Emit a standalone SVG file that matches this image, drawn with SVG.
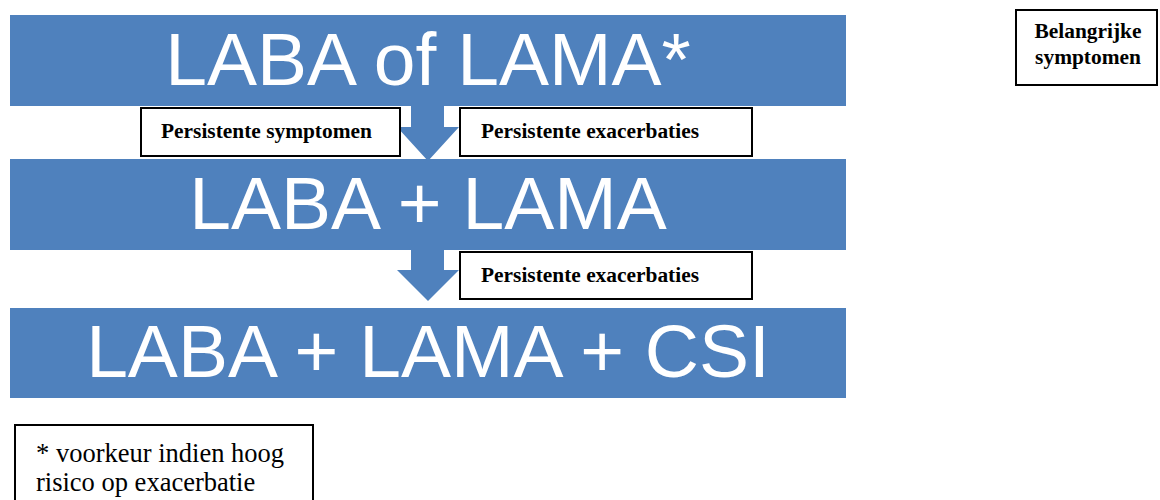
<svg xmlns="http://www.w3.org/2000/svg" width="1160" height="500" viewBox="0 0 1160 500">
<style>
.bar{fill:#4F81BD}
.big{font-family:"Liberation Sans",Arial,sans-serif;font-size:75px;fill:#fff;text-anchor:middle}
.box{fill:#fff;stroke:#000;stroke-width:2}
.lbl{font-family:"Liberation Serif","Times New Roman",serif;font-size:21.4px;font-weight:bold;fill:#000}
.note{font-family:"Liberation Serif","Times New Roman",serif;font-size:26.5px;fill:#000}
.arrow{fill:#4F81BD}
</style>
<g id="connectors">
<polygon class="arrow" points="411,106 444,106 444,127 459,127 428,161 397,127 411,127"/>
<polygon class="arrow" points="411,250 444,250 444,270 459,270 428,301 397,270 411,270"/>
</g>
<g id="step1">
<rect class="bar" x="10" y="15" width="836" height="91"/>
<text class="big" x="428" y="85">LABA of LAMA*</text>
</g>
<g id="step2">
<rect class="bar" x="10" y="159" width="836" height="91"/>
<text class="big" x="428" y="229">LABA + LAMA</text>
</g>
<g id="step3">
<rect class="bar" x="10" y="308" width="836" height="90"/>
<text class="big" x="428" y="377">LABA + LAMA + CSI</text>
</g>
<g id="label-symptomen">
<rect class="box" x="141" y="108" width="259" height="48"/>
<text class="lbl" x="161" y="138">Persistente symptomen</text>
</g>
<g id="label-exacerbaties-1">
<rect class="box" x="460" y="108" width="292" height="48"/>
<text class="lbl" x="481" y="138">Persistente exacerbaties</text>
</g>
<g id="label-exacerbaties-2">
<rect class="box" x="460" y="252" width="292" height="47"/>
<text class="lbl" x="481" y="282">Persistente exacerbaties</text>
</g>
<g id="legend-symptomen">
<rect class="box" x="1016" y="10" width="141" height="75"/>
<text class="lbl" x="1088" y="38" text-anchor="middle">Belangrijke</text>
<text class="lbl" x="1088" y="64" text-anchor="middle">symptomen</text>
</g>
<g id="footnote">
<rect class="box" x="15" y="425" width="298" height="90"/>
<text class="note" x="36" y="462">* voorkeur indien hoog</text>
<text class="note" x="36" y="491">risico op exacerbatie</text>
</g>
</svg>
